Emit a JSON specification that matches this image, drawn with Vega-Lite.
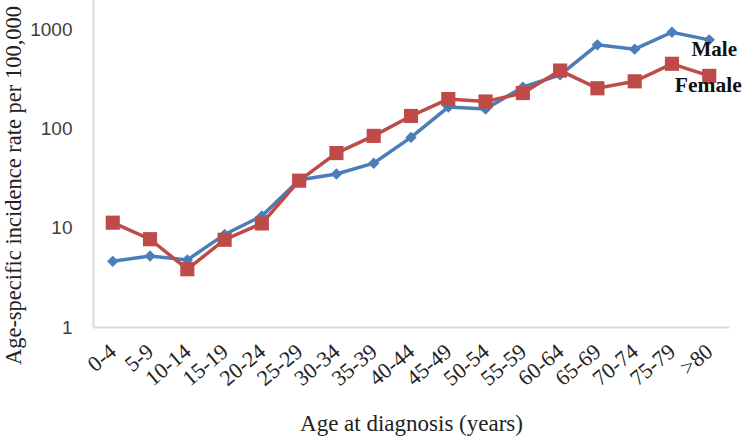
{
  "$schema": "https://vega.github.io/schema/vega-lite/v6.json",
  "autosize": {"type": "none"},
  "width": 636,
  "height": 327,
  "padding": {"left": 93, "top": 0, "right": 15, "bottom": 109},
  "background": "white",
  "config": {"view": {"stroke": null}},
  "datasets": {
    "rates": [
      {"age": "0-4", "sex": "Male", "rate": 4.6},
      {"age": "5-9", "sex": "Male", "rate": 5.2},
      {"age": "10-14", "sex": "Male", "rate": 4.75},
      {"age": "15-19", "sex": "Male", "rate": 8.6},
      {"age": "20-24", "sex": "Male", "rate": 13.2},
      {"age": "25-29", "sex": "Male", "rate": 30.5},
      {"age": "30-34", "sex": "Male", "rate": 35},
      {"age": "35-39", "sex": "Male", "rate": 45},
      {"age": "40-44", "sex": "Male", "rate": 82},
      {"age": "45-49", "sex": "Male", "rate": 166},
      {"age": "50-54", "sex": "Male", "rate": 159},
      {"age": "55-59", "sex": "Male", "rate": 264},
      {"age": "60-64", "sex": "Male", "rate": 351},
      {"age": "65-69", "sex": "Male", "rate": 705},
      {"age": "70-74", "sex": "Male", "rate": 638},
      {"age": "75-79", "sex": "Male", "rate": 946},
      {"age": ">80", "sex": "Male", "rate": 792},
      {"age": "0-4", "sex": "Female", "rate": 11.3},
      {"age": "5-9", "sex": "Female", "rate": 7.7},
      {"age": "10-14", "sex": "Female", "rate": 3.83},
      {"age": "15-19", "sex": "Female", "rate": 7.6},
      {"age": "20-24", "sex": "Female", "rate": 11.1},
      {"age": "25-29", "sex": "Female", "rate": 30},
      {"age": "30-34", "sex": "Female", "rate": 57},
      {"age": "35-39", "sex": "Female", "rate": 85},
      {"age": "40-44", "sex": "Female", "rate": 135},
      {"age": "45-49", "sex": "Female", "rate": 200},
      {"age": "50-54", "sex": "Female", "rate": 189},
      {"age": "55-59", "sex": "Female", "rate": 230},
      {"age": "60-64", "sex": "Female", "rate": 388},
      {"age": "65-69", "sex": "Female", "rate": 257},
      {"age": "70-74", "sex": "Female", "rate": 302},
      {"age": "75-79", "sex": "Female", "rate": 454},
      {"age": ">80", "sex": "Female", "rate": 343}
    ],
    "labels": [
      {"age": ">80", "sex": "Male", "rate": 628},
      {"age": ">80", "sex": "Female", "rate": 272}
    ]
  },
  "encoding": {
    "x": {
      "field": "age", "type": "ordinal",
      "sort": ["0-4","5-9","10-14","15-19","20-24","25-29","30-34","35-39","40-44","45-49","50-54","55-59","60-64","65-69","70-74","75-79",">80"],
      "scale": {"type": "point", "padding": 0.53},
      "axis": {
        "title": "Age at diagnosis  (years)",
        "titleFont": "Liberation Serif", "titleFontSize": 23, "titleFontWeight": "normal", "titleColor": "#222",
        "titleY": 96, "titleBaseline": "middle",
        "labelAngle": -40, "labelAlign": "right", "labelBaseline": "middle",
        "labelFont": "Liberation Serif", "labelFontSize": 22, "labelColor": "#222",
        "labelPadding": 21,
        "ticks": false, "grid": false,
        "domainColor": "#d9d9d9", "domainWidth": 2
      }
    },
    "y": {
      "field": "rate", "type": "quantitative",
      "scale": {"type": "log", "domain": [1, 2000], "nice": false},
      "axis": {
        "title": "Age-specific incidence rate  per 100,000",
        "titleFont": "Liberation Serif", "titleFontSize": 22.5, "titleFontWeight": "normal", "titleColor": "#222",
        "titleX": -80, "titleY": 185, "titleBaseline": "middle", "titleAlign": "center", "titleAngle": -90,
        "values": [1, 10, 100, 1000],
        "format": "d",
        "labelFont": "Liberation Sans", "labelFontSize": 19, "labelColor": "#404040",
        "labelPadding": 21,
        "ticks": false, "grid": false,
        "domainColor": "#d9d9d9", "domainWidth": 2
      }
    }
  },
  "layer": [
    {
      "data": {"name": "rates"},
      "mark": {"type": "line", "strokeWidth": 3.5},
      "encoding": {
        "color": {"field": "sex", "type": "nominal", "scale": {"domain": ["Male", "Female"], "range": ["#4A7EBB", "#BE4B48"]}, "legend": null}
      }
    },
    {
      "data": {"name": "rates"},
      "transform": [{"filter": "datum.sex == 'Male'"}],
      "mark": {"type": "point", "shape": "diamond", "filled": true, "size": 130, "opacity": 1, "color": "#4A7EBB"}
    },
    {
      "data": {"name": "rates"},
      "transform": [{"filter": "datum.sex == 'Female'"}],
      "mark": {"type": "point", "shape": "square", "filled": true, "size": 200, "opacity": 1, "color": "#BE4B48"}
    },
    {
      "data": {"name": "labels"},
      "transform": [{"filter": "datum.sex == 'Male'"}],
      "mark": {"type": "text", "font": "Liberation Serif", "fontSize": 21, "fontWeight": "bold", "color": "#111", "align": "center", "dx": 5},
      "encoding": {"text": {"field": "sex"}}
    },
    {
      "data": {"name": "labels"},
      "transform": [{"filter": "datum.sex == 'Female'"}],
      "mark": {"type": "text", "font": "Liberation Serif", "fontSize": 21.5, "fontWeight": "bold", "color": "#111", "align": "center", "dx": -1},
      "encoding": {"text": {"field": "sex"}}
    }
  ]
}
